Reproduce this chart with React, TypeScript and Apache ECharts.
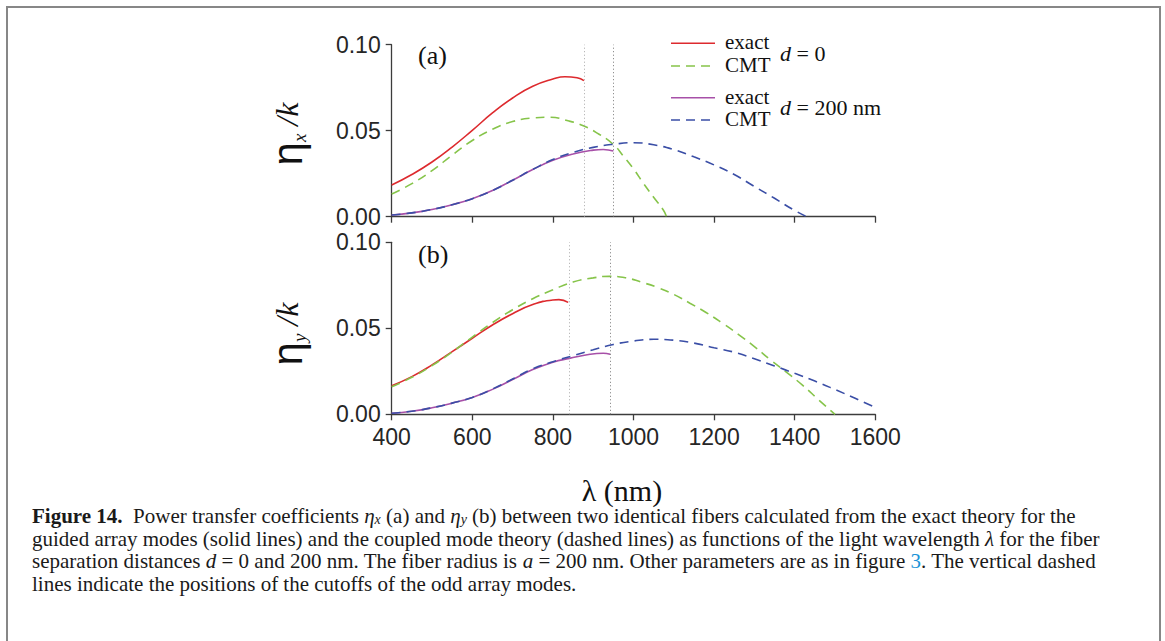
import React, { useEffect, useRef } from "react";
import * as echarts from "echarts";

// ---------- data ----------
const xMin = 400;
const xMax = 1600;
const xStep = 200;
const yMin = 0;
const yMax = 0.1;
const yStep = 0.05;

// panel (a): eta_x / k
const aExactD0Wl = [400, 450, 500, 550, 600, 650, 700, 750, 800, 830, 860, 877];
const aExactD0Val = [0.0184, 0.0245, 0.0318, 0.0405, 0.0502, 0.0603, 0.069, 0.0758, 0.0800, 0.0814, 0.0808, 0.0791];
const aCmtD0Wl = [400, 450, 500, 550, 600, 650, 700, 750, 790, 840, 877, 910, 950, 975, 1000, 1024, 1049, 1074, 1082];
const aCmtD0Val = [0.0132, 0.0192, 0.0268, 0.0358, 0.0443, 0.0508, 0.0553, 0.0574, 0.0578, 0.0556, 0.0527, 0.0486, 0.042, 0.0352, 0.0278, 0.0196, 0.0116, 0.0039, 0.0];
const aExactD200Wl = [400, 450, 500, 550, 600, 650, 700, 750, 800, 850, 900, 925, 950];
const aExactD200Val = [0.001, 0.0022, 0.0042, 0.007, 0.0105, 0.0152, 0.0212, 0.0274, 0.0328, 0.0365, 0.0387, 0.0391, 0.0382];
const aCmtD200Wl = [400, 450, 500, 550, 600, 650, 700, 750, 800, 850, 900, 950, 1000, 1050, 1100, 1150, 1200, 1250, 1300, 1350, 1400, 1430];
const aCmtD200Val = [0.001, 0.0022, 0.0042, 0.007, 0.0105, 0.0152, 0.0212, 0.0275, 0.0332, 0.0374, 0.0403, 0.0421, 0.043, 0.0418, 0.039, 0.0348, 0.0301, 0.0245, 0.0176, 0.0107, 0.0036, 0.0];
const aCutoffs = [877, 950];

// panel (b): eta_y / k
const bExactD0Wl = [400, 450, 500, 550, 600, 650, 700, 750, 800, 815, 838];
const bExactD0Val = [0.0166, 0.0219, 0.0287, 0.0364, 0.0442, 0.0519, 0.0585, 0.0638, 0.0665, 0.0667, 0.0651];
const bCmtD0Wl = [400, 450, 500, 550, 600, 650, 700, 750, 800, 850, 900, 940, 980, 1020, 1060, 1100, 1140, 1180, 1220, 1260, 1300, 1340, 1380, 1420, 1460, 1500];
const bCmtD0Val = [0.016, 0.0215, 0.0283, 0.0362, 0.0449, 0.0533, 0.0608, 0.0672, 0.0724, 0.0769, 0.0793, 0.0802, 0.0794, 0.0768, 0.0737, 0.0697, 0.0646, 0.0592, 0.0531, 0.0465, 0.0394, 0.0316, 0.0244, 0.0168, 0.0083, 0.0];
const bExactD200Wl = [400, 450, 500, 550, 600, 650, 700, 750, 800, 841, 892, 925, 942];
const bExactD200Val = [0.0006, 0.0018, 0.0038, 0.0065, 0.0098, 0.0145, 0.0202, 0.026, 0.0303, 0.0325, 0.0349, 0.0355, 0.0349];
const bCmtD200Wl = [400, 450, 500, 550, 600, 650, 700, 750, 800, 850, 900, 950, 1000, 1050, 1100, 1150, 1200, 1250, 1300, 1350, 1400, 1450, 1500, 1550, 1600];
const bCmtD200Val = [0.0006, 0.0018, 0.0038, 0.0065, 0.0098, 0.0147, 0.0205, 0.0265, 0.0306, 0.0341, 0.0375, 0.0406, 0.0426, 0.0436, 0.0431, 0.0414, 0.0387, 0.0361, 0.0323, 0.0281, 0.0238, 0.0193, 0.0144, 0.0093, 0.004];
const bCutoffs = [841, 942];

const legendRows = ["exact", "CMT", "exact", "CMT"];

const captionLines = [
  "{b|Figure 14.}  Power transfer coefficients {i|η}{s|x} (a) and {i|η}{s|y} (b) between two identical fibers calculated from the exact theory for the",
  "guided array modes (solid lines) and the coupled mode theory (dashed lines) as functions of the light wavelength {i|λ} for the fiber",
  "separation distances {i|d} = 0 and 200 nm. The fiber radius is {i|a} = 200 nm. Other parameters are as in figure {l|3}. The vertical dashed",
  "lines indicate the positions of the cutoffs of the odd array modes.",
];

// ---------- style ----------
const RED = "#dd2a2e";
const GREEN = "#86c44a";
const MAGENTA = "#a750a8";
const BLUE = "#3a4ea6";
const AXIS = "#3c3c3c";

const zip = (w: number[], v: number[]) => w.map((x, i) => [x, v[i]]);

export default function App() {
  const ref = useRef<HTMLDivElement>(null);

  useEffect(() => {
    document.body.style.margin = "0";
    const chart = echarts.init(ref.current!, undefined, { renderer: "svg" });

    const gridLeft = 391.7;
    const gridWidth = 483.6;
    const mkX = (grid: number, showLabels: boolean) => ({
      type: "value",
      gridIndex: grid,
      min: xMin,
      max: xMax,
      interval: xStep,
      axisLine: { lineStyle: { color: AXIS, width: 1.3 } },
      axisTick: { length: 6, lineStyle: { color: AXIS, width: 1.3 } },
      axisLabel: {
        show: showLabels,
        fontFamily: "Liberation Sans",
        fontSize: 23,
        color: "#262626",
        margin: 11,
        formatter: (v: number) => String(v),
      },
      splitLine: { show: false },
    });
    const mkY = (grid: number) => ({
      type: "value",
      gridIndex: grid,
      min: yMin,
      max: yMax,
      interval: yStep,
      axisLine: { show: true, lineStyle: { color: AXIS, width: 1.3 } },
      axisTick: { show: true, length: 6, lineStyle: { color: AXIS, width: 1.3 } },
      axisLabel: {
        fontFamily: "Liberation Sans",
        fontSize: 23,
        color: "#262626",
        margin: 11,
        formatter: (v: number) => v.toFixed(2),
      },
      splitLine: { show: false },
    });

    const line = (
      name: string,
      grid: number,
      data: number[][],
      color: string,
      dashed: boolean,
      z: number,
      cutoffs?: number[]
    ) => ({
      name,
      type: "line",
      xAxisIndex: grid,
      yAxisIndex: grid,
      data,
      smooth: 0.5,
      showSymbol: false,
      symbol: "none",
      z,
      lineStyle: { color, width: 1.6, type: dashed ? [9, 6] : "solid" },
      markLine: cutoffs
        ? {
            silent: true,
            symbol: "none",
            label: { show: false },
            data: cutoffs.map((c, i) => ({
              xAxis: c,
              lineStyle: { color: i === 0 ? "#a8a8a8" : "#777", type: [1, 2.5], width: 1 },
            })),
          }
        : undefined,
    });

    const serif = "Liberation Serif";
    const legendGraphic: any[] = [];
    const legendY = [43.3, 66, 97.7, 120];
    const legendColors = [RED, GREEN, MAGENTA, BLUE];
    legendRows.forEach((t, i) => {
      legendGraphic.push({
        type: "line",
        shape: { x1: 671, y1: legendY[i], x2: 715, y2: legendY[i] },
        style: {
          stroke: legendColors[i],
          lineWidth: 1.6,
          lineDash: i % 2 === 1 ? [9, 6] : null,
        },
      });
      legendGraphic.push({
        type: "text",
        x: 725,
        y: legendY[i] - 1,
        style: {
          text: t,
          fontFamily: serif,
          fontSize: 21,
          lineHeight: 21,
          fill: "#111",
          verticalAlign: "middle",
        },
      });
    });
    const dStyle = {
      i: { fontFamily: serif, fontStyle: "italic", fontSize: 22, lineHeight: 22, fill: "#111" },
      n: { fontFamily: serif, fontSize: 22, lineHeight: 22, fill: "#111" },
    };
    legendGraphic.push({
      type: "text",
      x: 780,
      y: 53,
      style: { text: "{i|d}{n| = 0}", rich: dStyle, verticalAlign: "middle" },
    });
    legendGraphic.push({
      type: "text",
      x: 780,
      y: 107,
      style: { text: "{i|d}{n| = 200 nm}", rich: dStyle, verticalAlign: "middle" },
    });

    const yLabel = (cy: number, sub: string) => ({
      type: "text",
      x: 287,
      y: cy,
      rotation: Math.PI / 2,
      style: {
        text: `{e|η}{s|${sub}}{k| /k}`,
        align: "center",
        verticalAlign: "middle",
        rich: {
          e: { fontFamily: "Liberation Sans", fontSize: 42, lineHeight: 44, fill: "#111" },
          s: { fontFamily: serif, fontStyle: "italic", fontSize: 19, lineHeight: 20, padding: [24, 0, 0, 0], fill: "#111" },
          k: { fontFamily: serif, fontStyle: "italic", fontSize: 32, lineHeight: 44, fill: "#111" },
        },
      },
    });

    const capRich = {
      b: { fontFamily: serif, fontWeight: "bold", fontSize: 21, lineHeight: 22, fill: "#1a1a1a" },
      i: { fontFamily: serif, fontStyle: "italic", fontSize: 21, lineHeight: 22, fill: "#1a1a1a" },
      s: { fontFamily: serif, fontStyle: "italic", fontSize: 14, lineHeight: 15, padding: [7, 0, 0, 0], fill: "#1a1a1a" },
      l: { fontFamily: serif, fontSize: 21, lineHeight: 22, fill: "#1b95d8" },
    };
    const captionY = [516, 538.5, 561, 583.5];
    const captionGraphic = captionLines.map((t, i) => ({
      type: "text",
      x: 32,
      y: captionY[i],
      style: {
        text: t,
        fontFamily: serif,
        fontSize: 21,
        lineHeight: 22,
        fill: "#1a1a1a",
        verticalAlign: "middle",
        rich: capRich,
      },
    }));

    chart.setOption({
      animation: false,
      backgroundColor: "#fff",
      grid: [
        { left: gridLeft, top: 44.7, width: gridWidth, height: 172 },
        { left: gridLeft, top: 242.3, width: gridWidth, height: 172 },
      ],
      xAxis: [mkX(0, false), mkX(1, true)],
      yAxis: [mkY(0), mkY(1)],
      series: [
        line("a exact d=0", 0, zip(aExactD0Wl, aExactD0Val), RED, false, 2, aCutoffs),
        line("a exact d=200", 0, zip(aExactD200Wl, aExactD200Val), MAGENTA, false, 3),
        line("a CMT d=0", 0, zip(aCmtD0Wl, aCmtD0Val), GREEN, true, 4),
        line("a CMT d=200", 0, zip(aCmtD200Wl, aCmtD200Val), BLUE, true, 5),
        line("b exact d=0", 1, zip(bExactD0Wl, bExactD0Val), RED, false, 2, bCutoffs),
        line("b exact d=200", 1, zip(bExactD200Wl, bExactD200Val), MAGENTA, false, 3),
        line("b CMT d=0", 1, zip(bCmtD0Wl, bCmtD0Val), GREEN, true, 4),
        line("b CMT d=200", 1, zip(bCmtD200Wl, bCmtD200Val), BLUE, true, 5),
      ],
      graphic: [
        {
          type: "rect",
          shape: { x: 7, y: 7, width: 1153, height: 700 },
          style: { fill: "none", stroke: "#878787", lineWidth: 2 },
          silent: true,
        },
        { type: "text", x: 418, y: 55, style: { text: "(a)", fontFamily: serif, fontSize: 26, lineHeight: 26, fill: "#111", verticalAlign: "middle" } },
        { type: "text", x: 418, y: 254, style: { text: "(b)", fontFamily: serif, fontSize: 26, lineHeight: 26, fill: "#111", verticalAlign: "middle" } },
        yLabel(134, "x"),
        yLabel(334, "y"),
        {
          type: "text",
          x: 622,
          y: 490,
          style: { text: "λ (nm)", fontFamily: serif, fontSize: 30, lineHeight: 28, fill: "#111", align: "center", verticalAlign: "middle" },
        },
        ...legendGraphic,
        ...captionGraphic,
      ],
    });

    return () => chart.dispose();
  }, []);

  return <div ref={ref} style={{ width: 1165, height: 641 }} />;
}
